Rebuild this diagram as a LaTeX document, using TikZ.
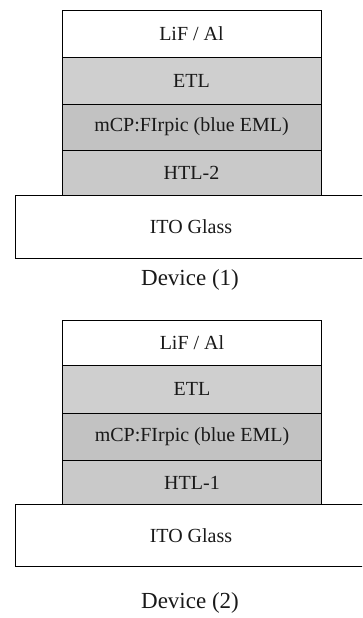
\documentclass[tikz,border=0pt]{standalone}
\usepackage{fontspec}
\setmainfont{Liberation Serif}
\begin{document}
\begin{tikzpicture}[x=1pt,y=-1pt,
  layer/.style={draw=black, line width=0.9pt, minimum width=259pt, inner sep=0pt,
    font=\fontsize{20}{21}\selectfont, text=black!90},
  glass/.style={fill=white, inner sep=0pt, minimum width=350pt,
    font=\fontsize{20}{21}\selectfont, text=black!90},
  caption/.style={font=\fontsize{23}{24}\selectfont, text=black!90}]
\useasboundingbox (0,0) rectangle (362,618);
\clip (0,0) rectangle (362,618);
% Device (1)
\node[layer, fill=white, minimum height=47pt] (a1) at (191.5,33.5) {LiF / Al};
\node[layer, fill=gray!38, minimum height=47pt] (b1) at (191.5,80.5) {ETL};
\node[layer, fill=gray!48, minimum height=46pt] (c1) at (191.5,127) {mCP:FIrpic (blue EML)};
\node[layer, fill=gray!42, minimum height=46pt] (d1) at (191.5,173) {HTL-2};
\node[glass, minimum height=62pt] (e1) at (191,227) {ITO Glass};
\draw[line width=0.9pt] (e1.north east) -- (e1.north west) -- (e1.south west) -- (e1.south east);
\node[caption] (t1) at (190,280) {Device (1)};
% Device (2)
\node[layer, fill=white, minimum height=45pt] (a2) at (192,342.5) {LiF / Al};
\node[layer, fill=gray!38, minimum height=48pt] (b2) at (192,389) {ETL};
\node[layer, fill=gray!48, minimum height=47pt] (c2) at (192,436.5) {mCP:FIrpic (blue EML)};
\node[layer, fill=gray!42, minimum height=45pt] (d2) at (192,482.5) {HTL-1};
\node[glass, minimum height=61pt] (e2) at (191,535.5) {ITO Glass};
\draw[line width=0.9pt] (e2.north east) -- (e2.north west) -- (e2.south west) -- (e2.south east);
\node[caption] (t2) at (190,603) {Device (2)};
\end{tikzpicture}
\end{document}
